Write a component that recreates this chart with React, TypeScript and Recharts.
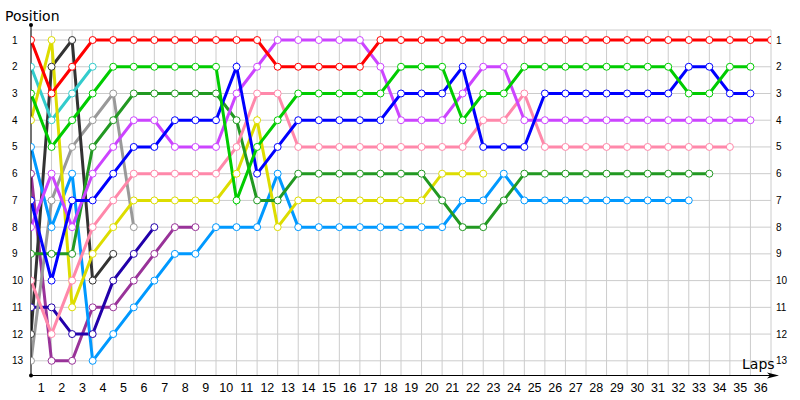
import React from 'react';
import { LineChart, Line, XAxis, YAxis, CartesianGrid } from 'recharts';

// positions per lap, index = lap (0 = grid)
const laps = Array.from({ length: 37 }, (_, i) => i);
const lapTicks = laps.slice(1);
const posTicks = [1, 2, 3, 4, 5, 6, 7, 8, 9, 10, 11, 12, 13];

const red = [1, 3, 2, 1, 1, 1, 1, 1, 1, 1, 1, 1, 2, 2, 2, 2, 2, 1, 1, 1, 1, 1, 1, 1, 1, 1, 1, 1, 1, 1, 1, 1, 1, 1, 1, 1, 1];
const lightGreen = [3, 5, 4, 3, 2, 2, 2, 2, 2, 2, 7, 5, 4, 3, 3, 3, 3, 3, 2, 2, 2, 4, 3, 3, 2, 2, 2, 2, 2, 2, 2, 2, 3, 3, 2, 2];
const blue = [7, 10, 7, 7, 6, 5, 5, 4, 4, 4, 2, 6, 5, 4, 4, 4, 4, 4, 3, 3, 3, 2, 5, 5, 5, 3, 3, 3, 3, 3, 3, 3, 2, 2, 3, 3];
const violet = [8, 6, 8, 6, 5, 4, 4, 5, 5, 5, 3, 2, 1, 1, 1, 1, 1, 2, 4, 4, 4, 3, 2, 2, 4, 4, 4, 4, 4, 4, 4, 4, 4, 4, 4, 4];
const pink = [10, 12, 10, 8, 7, 6, 6, 6, 6, 6, 5, 3, 3, 5, 5, 5, 5, 5, 5, 5, 5, 5, 4, 4, 3, 5, 5, 5, 5, 5, 5, 5, 5, 5, 5];
const darkGreen = [9, 9, 9, 5, 4, 3, 3, 3, 3, 3, 4, 7, 7, 6, 6, 6, 6, 6, 6, 6, 7, 8, 8, 7, 6, 6, 6, 6, 6, 6, 6, 6, 6, 6];
const yellow = [4, 1, 11, 9, 8, 7, 7, 7, 7, 7, 6, 4, 8, 7, 7, 7, 7, 7, 7, 7, 6, 6, 6];
const lightBlue = [5, 8, 6, 13, 12, 11, 10, 9, 9, 8, 8, 8, 6, 8, 8, 8, 8, 8, 8, 8, 8, 7, 7, 6, 7, 7, 7, 7, 7, 7, 7, 7, 7];
const cyan = [2, 4, 3, 2];
const darkGray = [12, 2, 1, 10, 9];
const gray = [13, 7, 5, 4, 3, 8];
const navy = [11, 11, 12, 12, 10, 9, 8];
const darkPurple = [6, 13, 13, 11, 11, 10, 9, 8, 8];

const series = [
  { key: 'darkPurple', values: darkPurple, color: '#993399' },
  { key: 'navy', values: navy, color: '#2200aa' },
  { key: 'gray', values: gray, color: '#999999' },
  { key: 'darkGray', values: darkGray, color: '#333333' },
  { key: 'cyan', values: cyan, color: '#33cccc' },
  { key: 'lightBlue', values: lightBlue, color: '#0099ff' },
  { key: 'yellow', values: yellow, color: '#dddd00' },
  { key: 'darkGreen', values: darkGreen, color: '#229922' },
  { key: 'pink', values: pink, color: '#ff88aa' },
  { key: 'violet', values: violet, color: '#cc44ff' },
  { key: 'blue', values: blue, color: '#0000ff' },
  { key: 'lightGreen', values: lightGreen, color: '#00cc00' },
  { key: 'red', values: red, color: '#ff0000' },
];

const tableData = laps.map((lap) => {
  const row: Record<string, number | undefined> = { lap };
  series.forEach((s) => {
    row[s.key] = s.values[lap];
  });
  return row;
});

const LAP_W = 740 / 36;

const lapTick = (props: any) => {
  const { x, payload } = props;
  return (
    <text x={x - LAP_W / 2} y={392} textAnchor="middle" fontSize={12.5} fontFamily="Liberation Sans, Arial" fill="#000">
      {payload.value}
    </text>
  );
};

const leftTick = (props: any) => {
  const { y, payload } = props;
  return (
    <text x={12} y={y + 3.5} textAnchor="start" fontSize={10} fontFamily="Liberation Sans, Arial" fill="#000">
      {payload.value}
    </text>
  );
};

const rightTick = (props: any) => {
  const { y, payload } = props;
  return (
    <text x={776} y={y + 3.5} textAnchor="start" fontSize={10} fontFamily="Liberation Sans, Arial" fill="#000">
      {payload.value}
    </text>
  );
};

const App = () => {
  return (
    <div style={{ position: 'absolute', left: 0, top: 0, width: 800, height: 400, background: '#fff' }}>
      <LineChart
        width={800}
        height={400}
        data={tableData}
        margin={{ top: 30, right: 0, bottom: 0, left: 0 }}
      >
        <CartesianGrid stroke="#cccccc" strokeWidth={1} />
        <XAxis
          type="number"
          dataKey="lap"
          domain={[0, 36]}
          ticks={lapTicks}
          interval={0}
          tick={lapTick}
          tickLine={false}
          axisLine={{ stroke: '#000' }}
          height={24.5}
          allowDataOverflow
        />
        <YAxis
          type="number"
          reversed
          domain={[0.625, 13.55]}
          ticks={posTicks}
          interval={0}
          tick={leftTick}
          tickLine={false}
          axisLine={{ stroke: '#000' }}
          width={31}
          allowDataOverflow
        />
        <YAxis
          yAxisId="right"
          orientation="right"
          type="number"
          reversed
          domain={[0.625, 13.55]}
          ticks={posTicks}
          interval={0}
          tick={rightTick}
          tickLine={false}
          axisLine={false}
          width={29}
          allowDataOverflow
        />
        {series.map((s) => (
          <Line
            key={s.key}
            type="linear"
            dataKey={s.key}
            stroke={s.color}
            strokeWidth={3}
            dot={{ r: 3.5, fill: '#fff', stroke: s.color, strokeWidth: 1 }}
            activeDot={false}
            isAnimationActive={false}
          />
        ))}
      </LineChart>
      <svg width={800} height={400} style={{ position: 'absolute', left: 0, top: 0, pointerEvents: 'none' }}>
        <line x1={31} y1={25} x2={31} y2={30} stroke="#000" />
        <circle cx={31} cy={25} r={2} fill="#000" />
        <circle cx={31} cy={375.5} r={2} fill="#000" />
        <line x1={771} y1={375.5} x2={776} y2={375.5} stroke="#000" />
        <polygon points="779,375.5 767,372.5 770,375.5 767,378.5" fill="#000" />
        <text x={5} y={21} fontSize={14} fontFamily="DejaVu Sans" fill="#000">Position</text>
        <text x={742} y={369} fontSize={14} fontFamily="DejaVu Sans" fill="#000">Laps</text>
      </svg>
    </div>
  );
};

export default App;
